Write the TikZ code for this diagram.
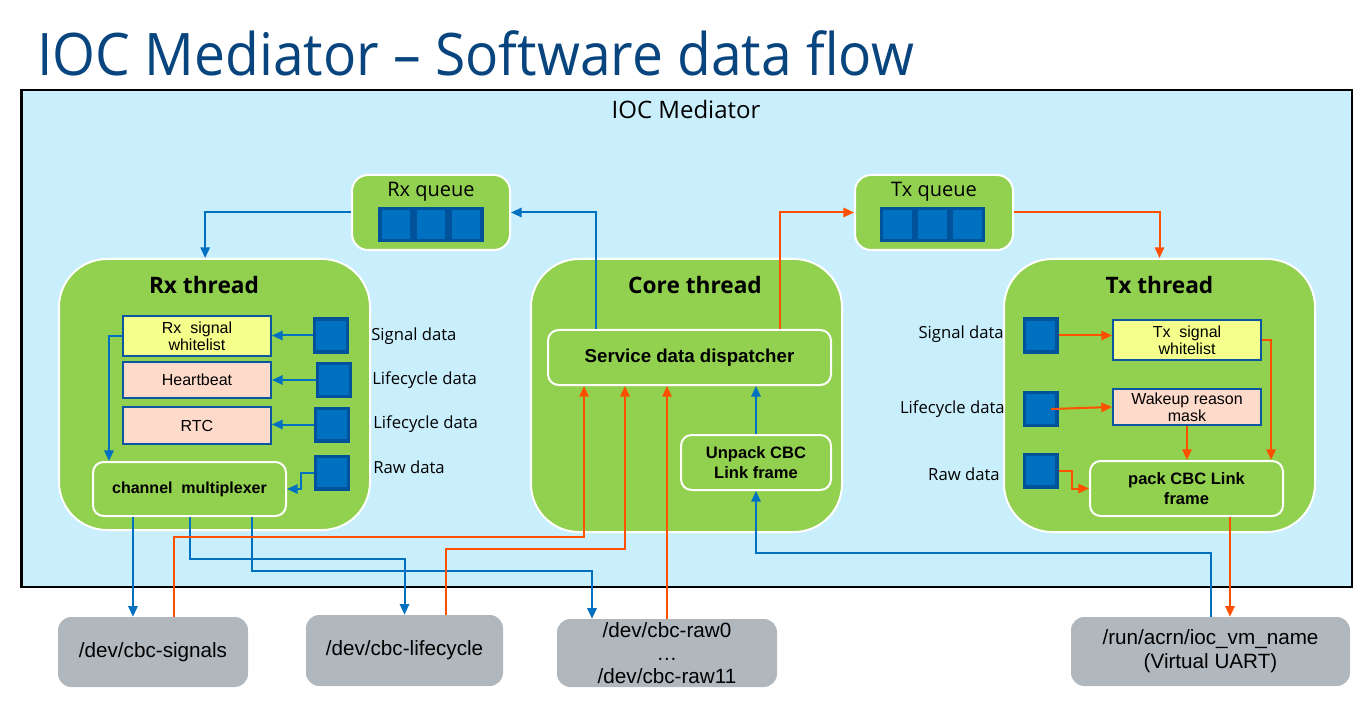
\documentclass[tikz,border=0pt]{standalone}
\usepackage{fontspec}
\setmainfont{Liberation Sans}
\newfontfamily\clearfont{Open Sans}
\newfontfamily\titlefont[FakeStretch=0.94]{Open Sans}
\usetikzlibrary{arrows.meta}

\definecolor{medbg}{HTML}{C9EEFC}
\definecolor{thrgreen}{HTML}{92D050}
\definecolor{qblue}{HTML}{0070C0}
\definecolor{qborder}{HTML}{00539B}
\definecolor{flowblue}{HTML}{0070C0}
\definecolor{floworange}{HTML}{FF5000}
\definecolor{devgray}{HTML}{B1B8BD}
\definecolor{wlyellow}{HTML}{F4FF8C}
\definecolor{lcpeach}{HTML}{FDDAC9}
\definecolor{boxedge}{HTML}{0A56A0}
\definecolor{titleblue}{HTML}{08457F}

\begin{document}
\begin{tikzpicture}
[x=0.75pt, y=-0.75pt, every node/.style={inner sep=0pt, align=center},
 thread/.style={fill=thrgreen, draw=white, line width=1.5pt, rounded corners=36pt},
 queue/.style={fill=thrgreen, draw=white, line width=1.5pt, rounded corners=12pt},
 stage/.style={fill=thrgreen, draw=white, line width=1.5pt, rounded corners=8pt, font=\bfseries\fontsize{12.4}{14.5}\selectfont},
 listbox/.style={draw=boxedge, line width=1.5pt, minimum width=111pt, font=\fontsize{12}{13}\selectfont},
 slot/.style={fill=qblue, draw=qborder, line width=2.5pt, minimum size=24.5pt},
 device/.style={fill=devgray, rounded corners=10pt, font=\fontsize{15.5}{17.5}\selectfont},
 datalabel/.style={font=\clearfont\fontsize{12.5}{14}\selectfont},
 heading/.style={font=\clearfont\bfseries\fontsize{17}{20}\selectfont},
 bflow/.style={draw=flowblue, line width=1.5pt, -{Triangle[length=8pt,width=7pt]}},
 oflow/.style={draw=floworange, line width=1.5pt, -{Triangle[length=8pt,width=7pt]}}]
\useasboundingbox [fill=white] (0,0) rectangle (1371,702);

% title and mediator frame
\node (title) [anchor=base west, text=titleblue, font=\titlefont\fontsize{44}{50}\selectfont] at (37,76) {IOC Mediator – Software data flow};
\node (mediator) [fill=medbg, draw=black, line width=2pt, minimum width=998pt, minimum height=372.75pt] at (686.5,338.5) {};
\node (medlabel) [font=\clearfont\fontsize{18}{20}\selectfont] at (686,110) {IOC Mediator};

% queues
\node (rxq) [queue, minimum width=118.5pt, minimum height=56.25pt] at (431,212.5) {};
\node (rxqlabel) [font=\clearfont\fontsize{15}{17}\selectfont] at (431,192) {Rx queue};
\node (txq) [queue, minimum width=118.5pt, minimum height=56.25pt] at (934,212.5) {};
\node (txqlabel) [font=\clearfont\fontsize{15}{17}\selectfont] at (934,192) {Tx queue};
\foreach \i in {-1,0,1} {
  \node (rxslot\i) [slot, minimum size=24pt] at (431+35*\i,224.5) {};
  \node (txslot\i) [slot, minimum size=24pt] at (932.5+35*\i,224.5) {};
}

% threads
\node (rxthread) [thread, minimum width=233.25pt, minimum height=203.25pt] at (214.5,394.5) {};
\node (rxtitle) [heading] at (204,285) {Rx thread};
\node (corethread) [thread, minimum width=233.25pt, minimum height=204.75pt] at (686.5,395.5) {};
\node (coretitle) [heading] at (695,285) {Core thread};
\node (txthread) [thread, minimum width=233.25pt, minimum height=204.75pt] at (1159.5,395.5) {};
\node (txtitle) [heading] at (1159.5,285) {Tx thread};

% Rx thread parts
\node (rxwl) [listbox, fill=wlyellow, minimum height=30pt] at (197,336) {Rx~ signal\\whitelist};
\node (heartbeat) [listbox, fill=lcpeach, minimum height=27pt] at (197,380) {Heartbeat};
\node (rtc) [listbox, fill=lcpeach, minimum height=27.75pt] at (197,425.5) {RTC};
\node (mux) [stage, font=\bfseries\fontsize{12}{14}\selectfont, minimum width=144.75pt, minimum height=40.5pt] at (189.5,489) {channel~ multiplexer};
\node (rxsig) [slot] at (331,335.5) {};
\node (rxlife1) [slot] at (334,380) {};
\node (rxlife2) [slot] at (332,424.5) {};
\node (rxraw) [slot] at (332,472.5) {};
\node (rxsiglabel) [datalabel, anchor=west] at (371,336) {Signal data};
\node (rxlife1label) [datalabel, anchor=west] at (372,380) {Lifecycle data};
\node (rxlife2label) [datalabel, anchor=west] at (373,424) {Lifecycle data};
\node (rxrawlabel) [datalabel, anchor=west] at (373,467) {Raw data};

% Core thread parts
\node (dispatch) [stage, font=\bfseries\fontsize{14}{16}\selectfont, minimum width=212.25pt, minimum height=41.25pt] at (689.5,357.5) {Service data dispatcher};
\node (unpack) [stage, minimum width=112.5pt, minimum height=41.25pt] at (756,462.5) {Unpack CBC\\Link frame};

% Tx thread parts
\node (txsig) [slot] at (1040.5,335.5) {};
\node (txlife) [slot] at (1040.5,409) {};
\node (txraw) [slot] at (1040.5,470.5) {};
\node (txsiglabel) [datalabel, anchor=east] at (1004,334) {Signal data};
\node (txlifelabel) [datalabel, anchor=east] at (1005,409) {Lifecycle data};
\node (txrawlabel) [datalabel, anchor=east] at (1000,474) {Raw data};
\node (txwl) [listbox, fill=wlyellow, minimum height=30pt] at (1187,340) {Tx~ signal\\whitelist};
\node (wakeup) [listbox, fill=lcpeach, minimum height=27pt] at (1187,407) {Wakeup reason\\mask};
\node (pack) [stage, minimum width=144.75pt, minimum height=41.25pt] at (1186.5,488.5) {pack CBC Link\\frame};

% device nodes
\node (cbcsig) [device, minimum width=142.5pt, minimum height=52.5pt] at (153,652) {/dev/cbc-signals};
\node (cbclife) [device, minimum width=147.75pt, minimum height=53.25pt] at (404.5,650.5) {/dev/cbc-lifecycle};
\node (cbcraw) [device, minimum width=165pt, minimum height=51pt] at (667,653) {/dev/cbc-raw0\\\dots\\/dev/cbc-raw11};
\node (vuart) [device, minimum width=209.25pt, minimum height=51.75pt, font=\fontsize{15.5}{18}\selectfont] at (1210.5,651.5) {/run/acrn/ioc\_vm\_name\\(Virtual UART)};

% receive path
\draw [bflow] (rxq.west) -| ([xshift=-7pt]rxthread.north);
\draw [bflow] (rxsig.west) -- (rxsig.west -| rxwl.east);
\draw [bflow] (rxlife1.west) -- (rxlife1.west -| heartbeat.east);
\draw [bflow] (rxlife2.west) -- (rxlife2.west -| rtc.east);
\draw [bflow] (rxraw.west) -- ++(-10pt,0) |- (mux.east);
\draw [bflow] (rxwl.west) -| ([xshift=-60.4pt]mux.north);
\draw [bflow] ([xshift=-42.4pt]mux.south) -- ([xshift=-42.4pt]mux.south |- cbcsig.north);
\draw [bflow] (mux.south) -- ++(0,-31.5pt) -| (cbclife.north);
\draw [bflow] ([xshift=46.9pt]mux.south) -- ++(0,-40.5pt) -| ([xshift=-56.25pt]cbcraw.north);
\draw [bflow] ([xshift=-70.1pt]dispatch.north) |- (rxq.east);
\draw [bflow] (unpack.north) -- (unpack.north |- dispatch.south);
\draw [bflow] (vuart.north) -- ++(0,48pt) -| (unpack.south);

% transmit path
\draw [oflow] ([xshift=15.75pt]cbcsig.north) -- ++(0,60pt) -| ([xshift=-79.1pt]dispatch.south);
\draw [oflow] ([xshift=31.1pt]cbclife.north) -- ++(0,49.5pt) -| ([xshift=-48.4pt]dispatch.south);
\draw [oflow] (cbcraw.north) -- (cbcraw.north |- dispatch.south);
\draw [oflow] ([xshift=67.9pt]dispatch.north) |- (txq.west);
\draw [oflow] (txq.east) -| (txthread.north);
\draw [oflow] (txsig.east) -- (txsig.east -| txwl.west);
\draw [oflow] ([xshift=8pt]txlife.center) -- (wakeup.west);
\draw [oflow] (txraw.east) -- ++(10pt,0) |- (pack.west);
\draw [oflow] (wakeup.south) -- (wakeup.south |- pack.north);
\draw [oflow] (txwl.east) -| ([xshift=63.4pt]pack.north);
\draw [oflow] ([xshift=32.6pt]pack.south) -- ([xshift=32.6pt]pack.south |- vuart.north);
\end{tikzpicture}
\end{document}
